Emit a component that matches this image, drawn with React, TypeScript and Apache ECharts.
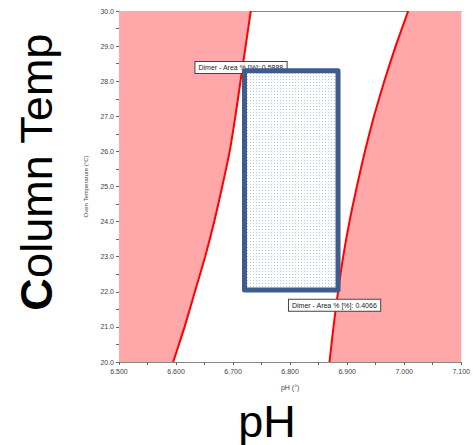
import React, { useEffect, useRef } from "react";
import * as echarts from "echarts";

// Design-space boundary curves: [pH, Oven Temperature °C]
const leftCurve: number[][] = [
  [6.595, 20], [6.615, 21], [6.633, 22], [6.651, 23], [6.667, 24], [6.681, 25],
  [6.694, 26], [6.704, 27], [6.713, 28], [6.722, 29], [6.731, 30],
];
const rightCurve: number[][] = [
  [6.869, 20], [6.876, 21], [6.884, 22], [6.893, 23], [6.904, 24], [6.917, 25],
  [6.931, 26], [6.947, 27], [6.965, 28], [6.985, 29], [7.007, 30],
];
const xRange = [6.5, 7.1];
const yRange = [20, 30];
const rectPH = [6.72, 6.884];
const rectTemp = [22.05, 28.3];
const labelTexts = ["Dimer - Area % [%]: 0.5888", "Dimer - Area % [%]: 0.4066"];
const labelAnchors: number[][] = [[6.634, 28.55], [6.798, 21.77]];

const leftPolygon = [[xRange[0], yRange[0]], ...leftCurve, [xRange[0], yRange[1]]];
const rightPolygon = [...rightCurve, [xRange[1], yRange[1]], [xRange[1], yRange[0]]];

const PINK = "#ffa7a9";
const dotSvg =
  "data:image/svg+xml;utf8," +
  encodeURIComponent(
    "<svg xmlns='http://www.w3.org/2000/svg' width='3' height='3'><rect x='1' y='1' width='1' height='1' fill='#b3c8e6'/></svg>"
  );

function regionSeries(points: number[][], z: number) {
  return {
    type: "custom",
    z,
    silent: true,
    data: points,
    renderItem: (params: any, api: any) => {
      if (params.dataIndex !== 0) return null;
      const pts = points.map((p) => api.coord(p));
      return { type: "polygon", shape: { points: pts }, style: { fill: PINK, stroke: null } };
    },
  };
}

function labelSeries(idx: number, z: number) {
  return {
    type: "custom",
    z,
    silent: true,
    data: [labelAnchors[idx]],
    renderItem: (params: any, api: any) => {
      const c = api.coord([api.value(0), api.value(1)]);
      return {
        type: "text",
        x: c[0],
        y: c[1],
        style: {
          text: labelTexts[idx],
          fontSize: 7,
          fontFamily: "Liberation Sans, Arial, sans-serif",
          fill: "#222",
          backgroundColor: "#ffffff",
          borderColor: "#444",
          borderWidth: 1,
          padding: [2, 3, 2, 3],
          align: "left",
          verticalAlign: "top",
        },
      };
    },
  };
}

export default function App() {
  const ref = useRef<HTMLDivElement>(null);
  useEffect(() => {
    if (!ref.current) return;
    const chart = echarts.init(ref.current, undefined, { renderer: "svg" });
    const tickFont = { fontSize: 7, color: "#444", fontFamily: "Liberation Sans, Arial, sans-serif" };
    chart.setOption({
      animation: false,
      backgroundColor: "#ffffff",
      grid: { left: 119, right: 6, top: 11, bottom: 83 },
      xAxis: [
        {
          type: "value",
          min: xRange[0],
          max: xRange[1],
          interval: 0.1,
          name: "pH (°)",
          nameLocation: "middle",
          nameGap: 22,
          nameTextStyle: { fontSize: 7, color: "#444", fontFamily: "Liberation Sans, Arial, sans-serif" },
          axisLine: { show: true, lineStyle: { color: "#888", width: 1 } },
          axisTick: { show: true, length: 3, lineStyle: { color: "#666" } },
          minorTick: { show: true, splitNumber: 2, length: 3, lineStyle: { color: "#666" } },
          splitLine: { show: false },
          axisLabel: { ...tickFont, margin: 6, formatter: (v: number) => v.toFixed(3) },
        },
        {
          type: "value",
          position: "top",
          min: xRange[0],
          max: xRange[1],
          axisLine: { show: true, lineStyle: { color: "#888", width: 1 } },
          axisTick: { show: false },
          axisLabel: { show: false },
          splitLine: { show: false },
        },
      ],
      yAxis: {
        type: "value",
        min: yRange[0],
        max: yRange[1],
        interval: 1,
        name: "Oven Temperature (°C)",
        nameLocation: "middle",
        nameRotate: 90,
        nameGap: 25,
        nameTextStyle: { fontSize: 6, color: "#444", fontFamily: "Liberation Sans, Arial, sans-serif" },
        axisLine: { show: true, lineStyle: { color: "#888", width: 1 } },
        axisTick: { show: true, length: 3, lineStyle: { color: "#666" } },
        minorTick: { show: true, splitNumber: 2, length: 3, lineStyle: { color: "#666" } },
        splitLine: { show: false },
        axisLabel: { ...tickFont, margin: 5, formatter: (v: number) => v.toFixed(1) },
      },
      series: [
        regionSeries(leftPolygon, 1),
        regionSeries(rightPolygon, 1),
        {
          type: "line",
          z: 3,
          data: leftCurve,
          smooth: 0.2,
          showSymbol: false,
          symbol: "none",
          lineStyle: { color: "#ff0000", width: 2 },
        },
        {
          type: "line",
          z: 3,
          data: rightCurve,
          smooth: 0.2,
          showSymbol: false,
          symbol: "none",
          lineStyle: { color: "#ff0000", width: 2 },
        },
        labelSeries(0, 4),
        {
          type: "custom",
          z: 5,
          silent: true,
          data: [[rectPH[0], rectTemp[1], rectPH[1], rectTemp[0]]],
          renderItem: (params: any, api: any) => {
            const a = api.coord([api.value(0), api.value(1)]);
            const b = api.coord([api.value(2), api.value(3)]);
            const shape = { x: a[0], y: a[1], width: b[0] - a[0], height: b[1] - a[1] };
            return {
              type: "group",
              children: [
                { type: "rect", shape, style: { fill: "#ffffff", stroke: null } },
                {
                  type: "rect",
                  shape,
                  style: {
                    fill: { image: dotSvg, repeat: "repeat", imageWidth: 3, imageHeight: 3 },
                    stroke: "#3e5d8c",
                    lineWidth: 5,
                    lineJoin: "round",
                  },
                },
              ],
            };
          },
        },
        labelSeries(1, 6),
      ],
      graphic: [
        {
          type: "text",
          x: 36,
          y: 172,
          rotation: Math.PI / 2,
          style: {
            text: "{b|C}olumn Temp",
            rich: {
              b: { fontWeight: "bold", fontSize: 45, fontFamily: "Liberation Sans, Arial, sans-serif", fill: "#000" },
            },
            fontSize: 45,
            fontFamily: "Liberation Sans, Arial, sans-serif",
            fill: "#000",
            align: "center",
            verticalAlign: "middle",
          },
        },
        {
          type: "text",
          x: 267,
          y: 421,
          style: {
            text: "pH",
            fontSize: 45,
            fontFamily: "Liberation Sans, Arial, sans-serif",
            fill: "#000",
            align: "center",
            verticalAlign: "middle",
          },
        },
      ],
    });
    return () => chart.dispose();
  }, []);
  return (
    <div
      ref={ref}
      style={{ position: "fixed", left: 0, top: 0, width: 473, height: 445, background: "#fff" }}
    />
  );
}
